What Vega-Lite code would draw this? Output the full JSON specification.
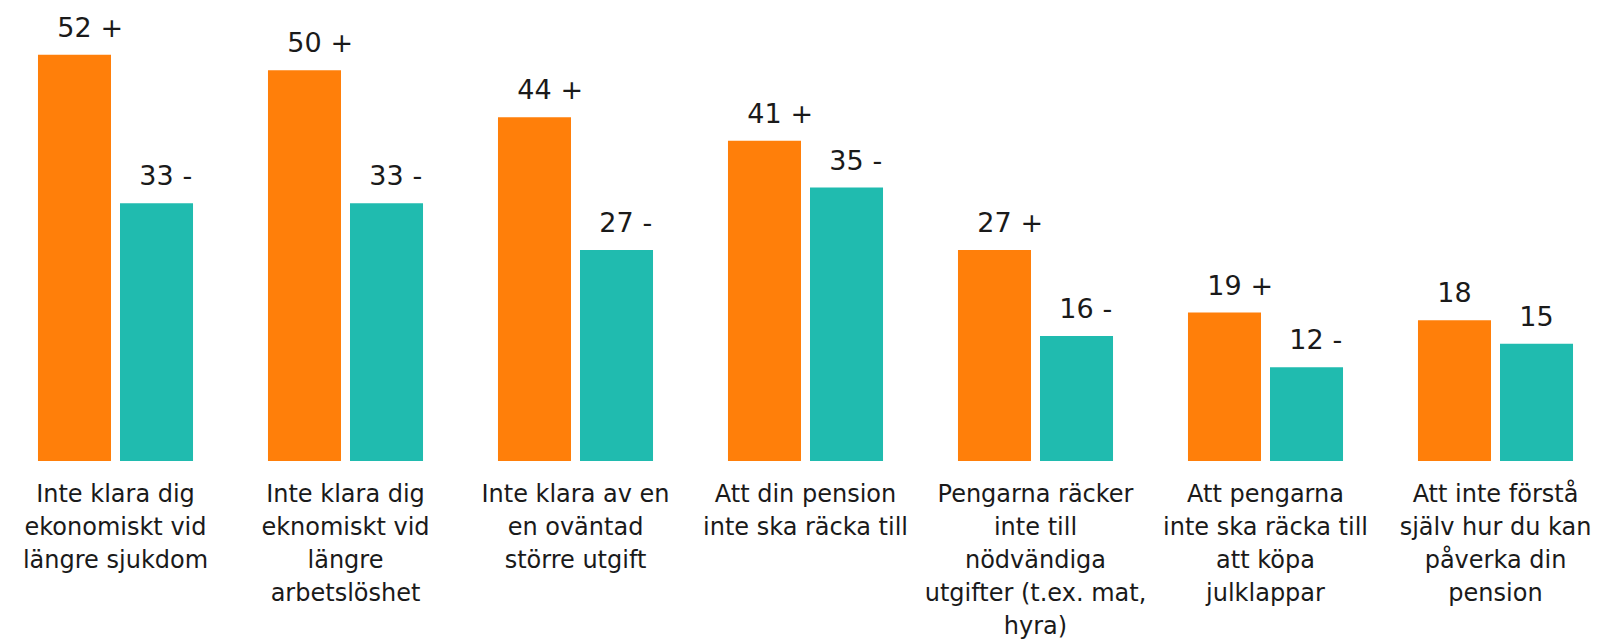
{
  "$schema": "https://vega.github.io/schema/vega-lite/v6.json",
  "autosize": "none",
  "padding": {"left": 0, "top": 0, "right": 0, "bottom": 179},
  "width": 1598,
  "height": 461,
  "background": "white",
  "config": {"view": {"stroke": null}, "font": "DejaVu Sans"},
  "datasets": {
    "bars": [
      {"category": "Inte klara dig ekonomiskt vid längre sjukdom", "series": "A", "value": 52, "suffix": "+"},
      {"category": "Inte klara dig ekonomiskt vid längre sjukdom", "series": "B", "value": 33, "suffix": "-"},
      {"category": "Inte klara dig eknomiskt vid längre arbetslöshet", "series": "A", "value": 50, "suffix": "+"},
      {"category": "Inte klara dig eknomiskt vid längre arbetslöshet", "series": "B", "value": 33, "suffix": "-"},
      {"category": "Inte klara av en en oväntad större utgift", "series": "A", "value": 44, "suffix": "+"},
      {"category": "Inte klara av en en oväntad större utgift", "series": "B", "value": 27, "suffix": "-"},
      {"category": "Att din pension inte ska räcka till", "series": "A", "value": 41, "suffix": "+"},
      {"category": "Att din pension inte ska räcka till", "series": "B", "value": 35, "suffix": "-"},
      {"category": "Pengarna räcker inte till nödvändiga utgifter (t.ex. mat, hyra)", "series": "A", "value": 27, "suffix": "+"},
      {"category": "Pengarna räcker inte till nödvändiga utgifter (t.ex. mat, hyra)", "series": "B", "value": 16, "suffix": "-"},
      {"category": "Att pengarna inte ska räcka till att köpa julklappar", "series": "A", "value": 19, "suffix": "+"},
      {"category": "Att pengarna inte ska räcka till att köpa julklappar", "series": "B", "value": 12, "suffix": "-"},
      {"category": "Att inte förstå själv hur du kan påverka din pension", "series": "A", "value": 18, "suffix": ""},
      {"category": "Att inte förstå själv hur du kan påverka din pension", "series": "B", "value": 15, "suffix": ""}
    ],
    "labels": [
      {"category": "Inte klara dig ekonomiskt vid längre sjukdom", "label": "Inte klara dig\nekonomiskt vid\nlängre sjukdom"},
      {"category": "Inte klara dig eknomiskt vid längre arbetslöshet", "label": "Inte klara dig\neknomiskt vid\nlängre\narbetslöshet"},
      {"category": "Inte klara av en en oväntad större utgift", "label": "Inte klara av en\nen oväntad\nstörre utgift"},
      {"category": "Att din pension inte ska räcka till", "label": "Att din pension\ninte ska räcka till"},
      {"category": "Pengarna räcker inte till nödvändiga utgifter (t.ex. mat, hyra)", "label": "Pengarna räcker\ninte till\nnödvändiga\nutgifter (t.ex. mat,\nhyra)"},
      {"category": "Att pengarna inte ska räcka till att köpa julklappar", "label": "Att pengarna\ninte ska räcka till\natt köpa\njulklappar"},
      {"category": "Att inte förstå själv hur du kan påverka din pension", "label": "Att inte förstå\nsjälv hur du kan\npåverka din\npension"}
    ]
  },
  "encoding": {
    "x": {"field": "category", "type": "nominal", "sort": null, "axis": null,
          "scale": {"range": [0.5, 1610.5], "paddingInner": 0, "paddingOuter": 0}},
    "y": {"type": "quantitative", "axis": null, "scale": {"domain": [0, 59], "nice": false, "zero": true}}
  },
  "layer": [
    {
      "data": {"name": "bars"},
      "mark": {"type": "bar"},
      "encoding": {
        "y": {"field": "value", "type": "quantitative"},
        "xOffset": {"field": "series", "type": "nominal", "scale": {"paddingInner": 0.1098, "paddingOuter": 0.457}},
        "color": {"field": "series", "type": "nominal", "legend": null,
                  "scale": {"domain": ["A", "B"], "range": ["#FF7F0A", "#20BBAF"]}}
      }
    },
    {
      "data": {"name": "bars"},
      "mark": {"type": "text", "align": "center", "baseline": "alphabetic", "dy": -18, "fontSize": 27, "color": "#1a1a1a"},
      "encoding": {
        "y": {"field": "value", "type": "quantitative"},
        "xOffset": {"field": "series", "type": "nominal", "scale": {"paddingInner": 0.1098, "paddingOuter": 0.457}},
        "text": {"field": "value", "type": "quantitative"}
      }
    },
    {
      "data": {"name": "bars"},
      "mark": {"type": "text", "align": "left", "baseline": "alphabetic", "dy": -18, "dx": 26, "fontSize": 27, "color": "#1a1a1a"},
      "encoding": {
        "y": {"field": "value", "type": "quantitative"},
        "xOffset": {"field": "series", "type": "nominal", "scale": {"paddingInner": 0.1098, "paddingOuter": 0.457}},
        "text": {"field": "suffix", "type": "nominal"}
      }
    },
    {
      "data": {"name": "labels"},
      "mark": {"type": "text", "align": "center", "baseline": "top", "dy": 22, "fontSize": 24, "lineHeight": 33, "lineBreak": "\n", "color": "#1a1a1a"},
      "encoding": {
        "y": {"datum": 0, "type": "quantitative"},
        "text": {"field": "label", "type": "nominal"}
      }
    }
  ]
}
